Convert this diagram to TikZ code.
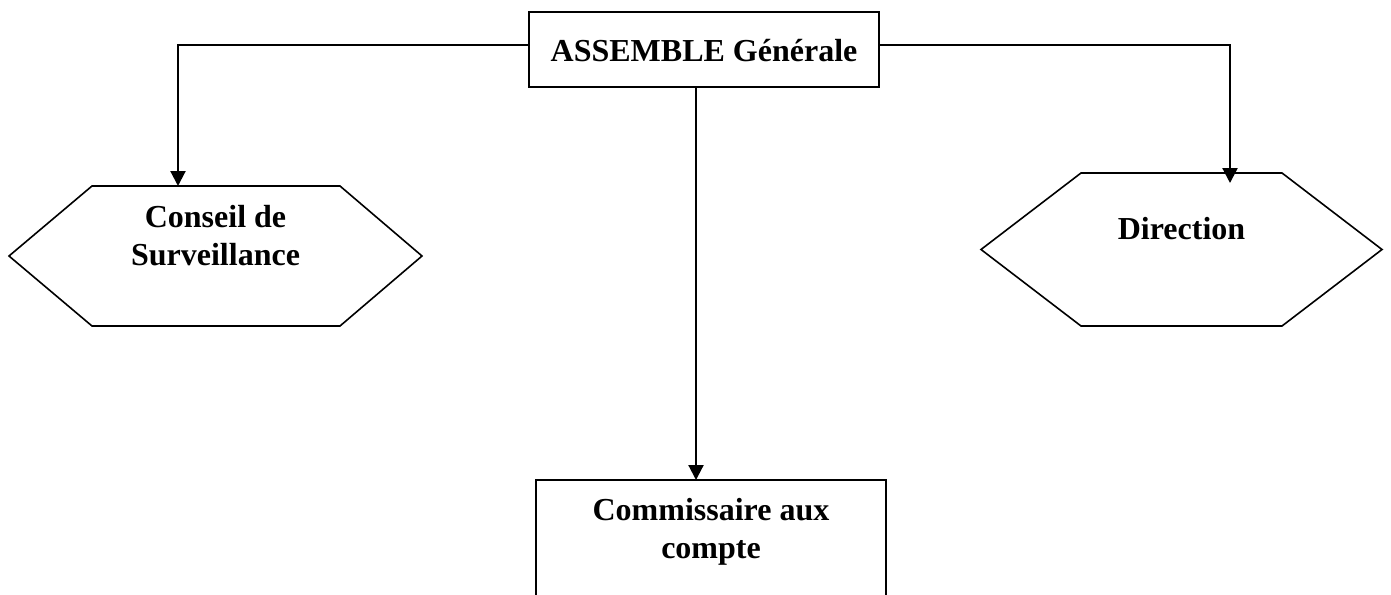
\documentclass[tikz,border=0pt]{standalone}
\usepackage{fontspec}
\setmainfont{Liberation Serif}
\usetikzlibrary{arrows.meta,positioning}

\begin{document}
\begin{tikzpicture}[x=1pt,y=1pt,line join=miter,
  font=\bfseries\fontsize{32}{38}\selectfont,
  box/.style={draw,line width=1.8pt,rectangle,inner sep=0pt,outer sep=0pt},
  hexa/.style={rectangle,inner sep=0pt,outer sep=0pt},
  hexline/.style={line width=1.6pt},
  lbl/.style={inner sep=0pt,align=center},
  link/.style={line width=2.2pt},
  arr/.style={link,-{Triangle[length=15pt,width=15pt]}}]
  \useasboundingbox (0,0) rectangle (1391,-594);
  \node[box,minimum width=350pt,minimum height=75pt] (assemble) at (704,-49.5) {};
  \node[lbl,below=27pt of assemble.north] (assembletxt) {ASSEMBLE Générale};
  \node[hexa,minimum width=413pt,minimum height=140pt] (conseil) at (215.5,-256) {};
  \draw[hexline] (conseil.west) -- ([xshift=83pt]conseil.north west) -- ([xshift=-82pt]conseil.north east)
    -- (conseil.east) -- ([xshift=-82pt]conseil.south east) -- ([xshift=83pt]conseil.south west) -- cycle;
  \node[lbl,below=19pt of conseil.north] (conseiltxt) {Conseil de\\Surveillance};
  \node[hexa,minimum width=401pt,minimum height=153pt] (direction) at (1181.5,-249.5) {};
  \draw[hexline] (direction.west) -- ([xshift=100pt]direction.north west) -- ([xshift=-100pt]direction.north east)
    -- (direction.east) -- ([xshift=-100pt]direction.south east) -- ([xshift=100pt]direction.south west) -- cycle;
  \node[lbl,below=44pt of direction.north] (directiontxt) {Direction};
  \node[box,minimum width=350pt,minimum height=160pt] (commissaire) at (711,-560) {};
  \node[lbl,below=18pt of commissaire.north] (commissairetxt) {Commissaire aux\\compte};
  \draw[arr] ([yshift=4.5pt]assemble.west) -| ([xshift=-37.5pt]conseil.north);
  \draw[arr,shorten >=-10pt] ([yshift=4.5pt]assemble.east) -| ([xshift=48.5pt]direction.north);
  \draw[arr] ([xshift=-8pt]assemble.south) -- ([xshift=-8pt]assemble.south |- commissaire.north);
\end{tikzpicture}
\end{document}
